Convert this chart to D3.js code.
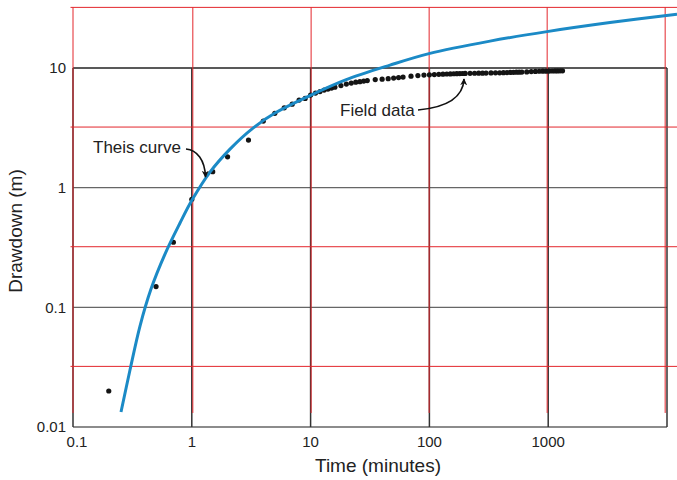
<!DOCTYPE html>
<html>
<head>
<meta charset="utf-8">
<script src="https://cdn.jsdelivr.net/npm/d3@7"></script>
<style>
  html, body { margin: 0; padding: 0; background: #fff; }
  svg { display: block; font-family: "Liberation Sans", Arial, Helvetica, sans-serif; }
</style>
</head>
<body>
<svg id="chart" width="677" height="480"></svg>
<script>
// ---- data ----
const xTicks = [0.1, 1, 10, 100, 1000];
const xTickLabels = ["0.1", "1", "10", "100", "1000"];
const yTicks = [0.01, 0.1, 1, 10];
const yTickLabels = ["0.01", "0.1", "1", "10"];
const xGridLines = [1, 10, 100, 1000, 10000];

// Type-curve overlay grid (red), in time / drawdown units after matching
const typeGridT = [0.1, 1.02, 10.1, 99.5, 980, 9650];
const typeGridS = [0.0321, 0.321, 3.21, 32.1];
const typeGridBottomS = 0.0131;

// Theis type curve
const theisT = [0.2535, 0.3018, 0.3664, 0.4535, 0.5948, 0.7957, 1.004, 1.423, 2.097, 3.275, 5.016, 9.88, 19.48, 46.6, 99.2, 323.7, 977, 3313, 12140];
const theisS = [0.01335, 0.02994, 0.0698, 0.1422, 0.2788, 0.5062, 0.7878, 1.350, 2.101, 3.147, 4.201, 5.88, 7.92, 10.57, 13.19, 16.78, 20.14, 23.95, 28.2];

// Field data (time in minutes, drawdown in m)
const fieldT = [0.2, 0.5, 0.7, 1, 1.5, 2, 3, 4, 5, 6, 7, 8, 9, 10, 11, 12, 13, 14, 15, 16, 18, 20, 22, 24, 26, 28, 30,
  35, 40, 45, 50, 55, 60, 70, 80, 90, 100, 110, 120, 130, 140, 150, 160, 170, 180, 190, 200, 220, 240, 260, 280, 300,
  330, 360, 390, 420, 450, 480, 510, 540, 570, 600, 660, 720, 780, 840, 900, 960, 1020, 1080, 1140, 1200, 1260, 1320];
const fieldS = [0.020, 0.149, 0.35, 0.80, 1.36, 1.81, 2.50, 3.60, 4.18, 4.65, 4.99, 5.39, 5.57, 5.94, 6.17, 6.35, 6.54, 6.66, 6.79, 6.92, 7.13, 7.34, 7.48, 7.62, 7.69, 7.77, 7.85,
  8.00, 8.07, 8.15, 8.23, 8.31, 8.39, 8.55, 8.64, 8.72, 8.77, 8.81, 8.85, 8.88, 8.91, 8.93, 8.95, 8.97, 8.99, 9.00, 9.01, 9.03, 9.04, 9.05, 9.06, 9.07,
  9.09, 9.11, 9.12, 9.14, 9.16, 9.18, 9.20, 9.22, 9.23, 9.24, 9.28, 9.33, 9.37, 9.39, 9.40, 9.41, 9.43, 9.44, 9.45, 9.46, 9.47, 9.48];

// ---- chart ----
const svg = d3.select("#chart");
const W = 677, H = 480;
const x = d3.scaleLog().domain([0.1, 10000]).range([73, 667]);
const y = d3.scaleLog().domain([0.01, 10]).range([427, 68]);

// Black grid
const g = svg.append("g");
g.selectAll("line.hg").data(yTicks).join("line")
  .attr("x1", x(0.1)).attr("x2", x(10000))
  .attr("y1", d => y(d)).attr("y2", d => y(d))
  .attr("stroke", d => d === 10 ? "#222" : "#666")
  .attr("stroke-width", d => d === 0.01 ? 1.6 : 1.3);
g.selectAll("line.vg").data(xGridLines).join("line")
  .attr("x1", d => x(d)).attr("x2", d => x(d))
  .attr("y1", y(10)).attr("y2", y(0.01))
  .attr("stroke", "#333").attr("stroke-width", 1.5);
g.append("line")
  .attr("x1", x(0.1)).attr("x2", x(0.1))
  .attr("y1", y(10)).attr("y2", y(0.01))
  .attr("stroke", "#333").attr("stroke-width", 1.5);

// Red type-curve grid
const red = "#e3262c";
const r = svg.append("g");
r.selectAll("line.rh").data(typeGridS).join("line")
  .attr("x1", x(0.1) - 2.5).attr("x2", W)
  .attr("y1", d => y(d)).attr("y2", d => y(d))
  .attr("stroke", red).attr("stroke-width", 1);
r.selectAll("line.rv").data(typeGridT).join("line")
  .attr("x1", d => x(d)).attr("x2", d => x(d))
  .attr("y1", y(d3.max(typeGridS))).attr("y2", y(typeGridBottomS))
  .attr("stroke", red).attr("stroke-width", 1);

// Axis labels
const fs = 15;
svg.append("g").selectAll("text").data(yTicks).join("text")
  .attr("x", x(0.1) - 7).attr("y", d => y(d))
  .attr("dy", "0.35em").attr("text-anchor", "end")
  .attr("font-size", fs).attr("fill", "#222")
  .text((d, i) => yTickLabels[i]);
svg.append("g").selectAll("text").data(xTicks).join("text")
  .attr("x", (d, i) => x(d) + (i === 0 ? 4 : 0)).attr("y", y(0.01) + 20)
  .attr("text-anchor", "middle")
  .attr("font-size", fs).attr("fill", "#222")
  .text((d, i) => xTickLabels[i]);

svg.append("text")
  .attr("x", 378).attr("y", 472)
  .attr("text-anchor", "middle").attr("font-size", 19).attr("fill", "#222")
  .text("Time (minutes)");
svg.append("text")
  .attr("transform", "translate(22,231) rotate(-90)")
  .attr("text-anchor", "middle").attr("font-size", 19).attr("fill", "#222")
  .text("Drawdown (m)");

// Field data dots
const pts = fieldT.map((t, i) => ({ t, s: fieldS[i] }));
svg.append("g").selectAll("circle").data(pts).join("circle")
  .attr("cx", d => x(d.t)).attr("cy", d => y(d.s))
  .attr("r", 2.6).attr("fill", "#141414");

// Theis curve
const curvePts = theisT.map((t, i) => ({ t, s: theisS[i] }));
const line = d3.line().x(d => x(d.t)).y(d => y(d.s)).curve(d3.curveCatmullRom.alpha(0.5));
svg.append("path").datum(curvePts)
  .attr("d", line)
  .attr("fill", "none").attr("stroke", "#1b8ac6").attr("stroke-width", 3)
  .attr("stroke-linecap", "butt");

// Annotations
const defs = svg.append("defs");
defs.append("marker").attr("id", "ah")
  .attr("viewBox", "0 0 10 10").attr("refX", 9).attr("refY", 5)
  .attr("markerWidth", 7).attr("markerHeight", 7)
  .attr("markerUnits", "userSpaceOnUse")
  .attr("orient", "auto")
  .append("path").attr("d", "M0,0 L10,5 L0,10 L3,5 Z").attr("fill", "#111");

svg.append("text").attr("x", 93).attr("y", 153)
  .attr("font-size", 17).attr("fill", "#222").text("Theis curve");
svg.append("path")
  .attr("d", "M186,149 C197,150 205,160 205.5,177")
  .attr("fill", "none").attr("stroke", "#111").attr("stroke-width", 1.6)
  .attr("marker-end", "url(#ah)");

svg.append("text").attr("x", 340).attr("y", 116)
  .attr("font-size", 17).attr("fill", "#222").text("Field data");
svg.append("path")
  .attr("d", "M418,110 C440,108 463,101 464,79")
  .attr("fill", "none").attr("stroke", "#111").attr("stroke-width", 1.6)
  .attr("marker-end", "url(#ah)");
</script>
</body>
</html>
